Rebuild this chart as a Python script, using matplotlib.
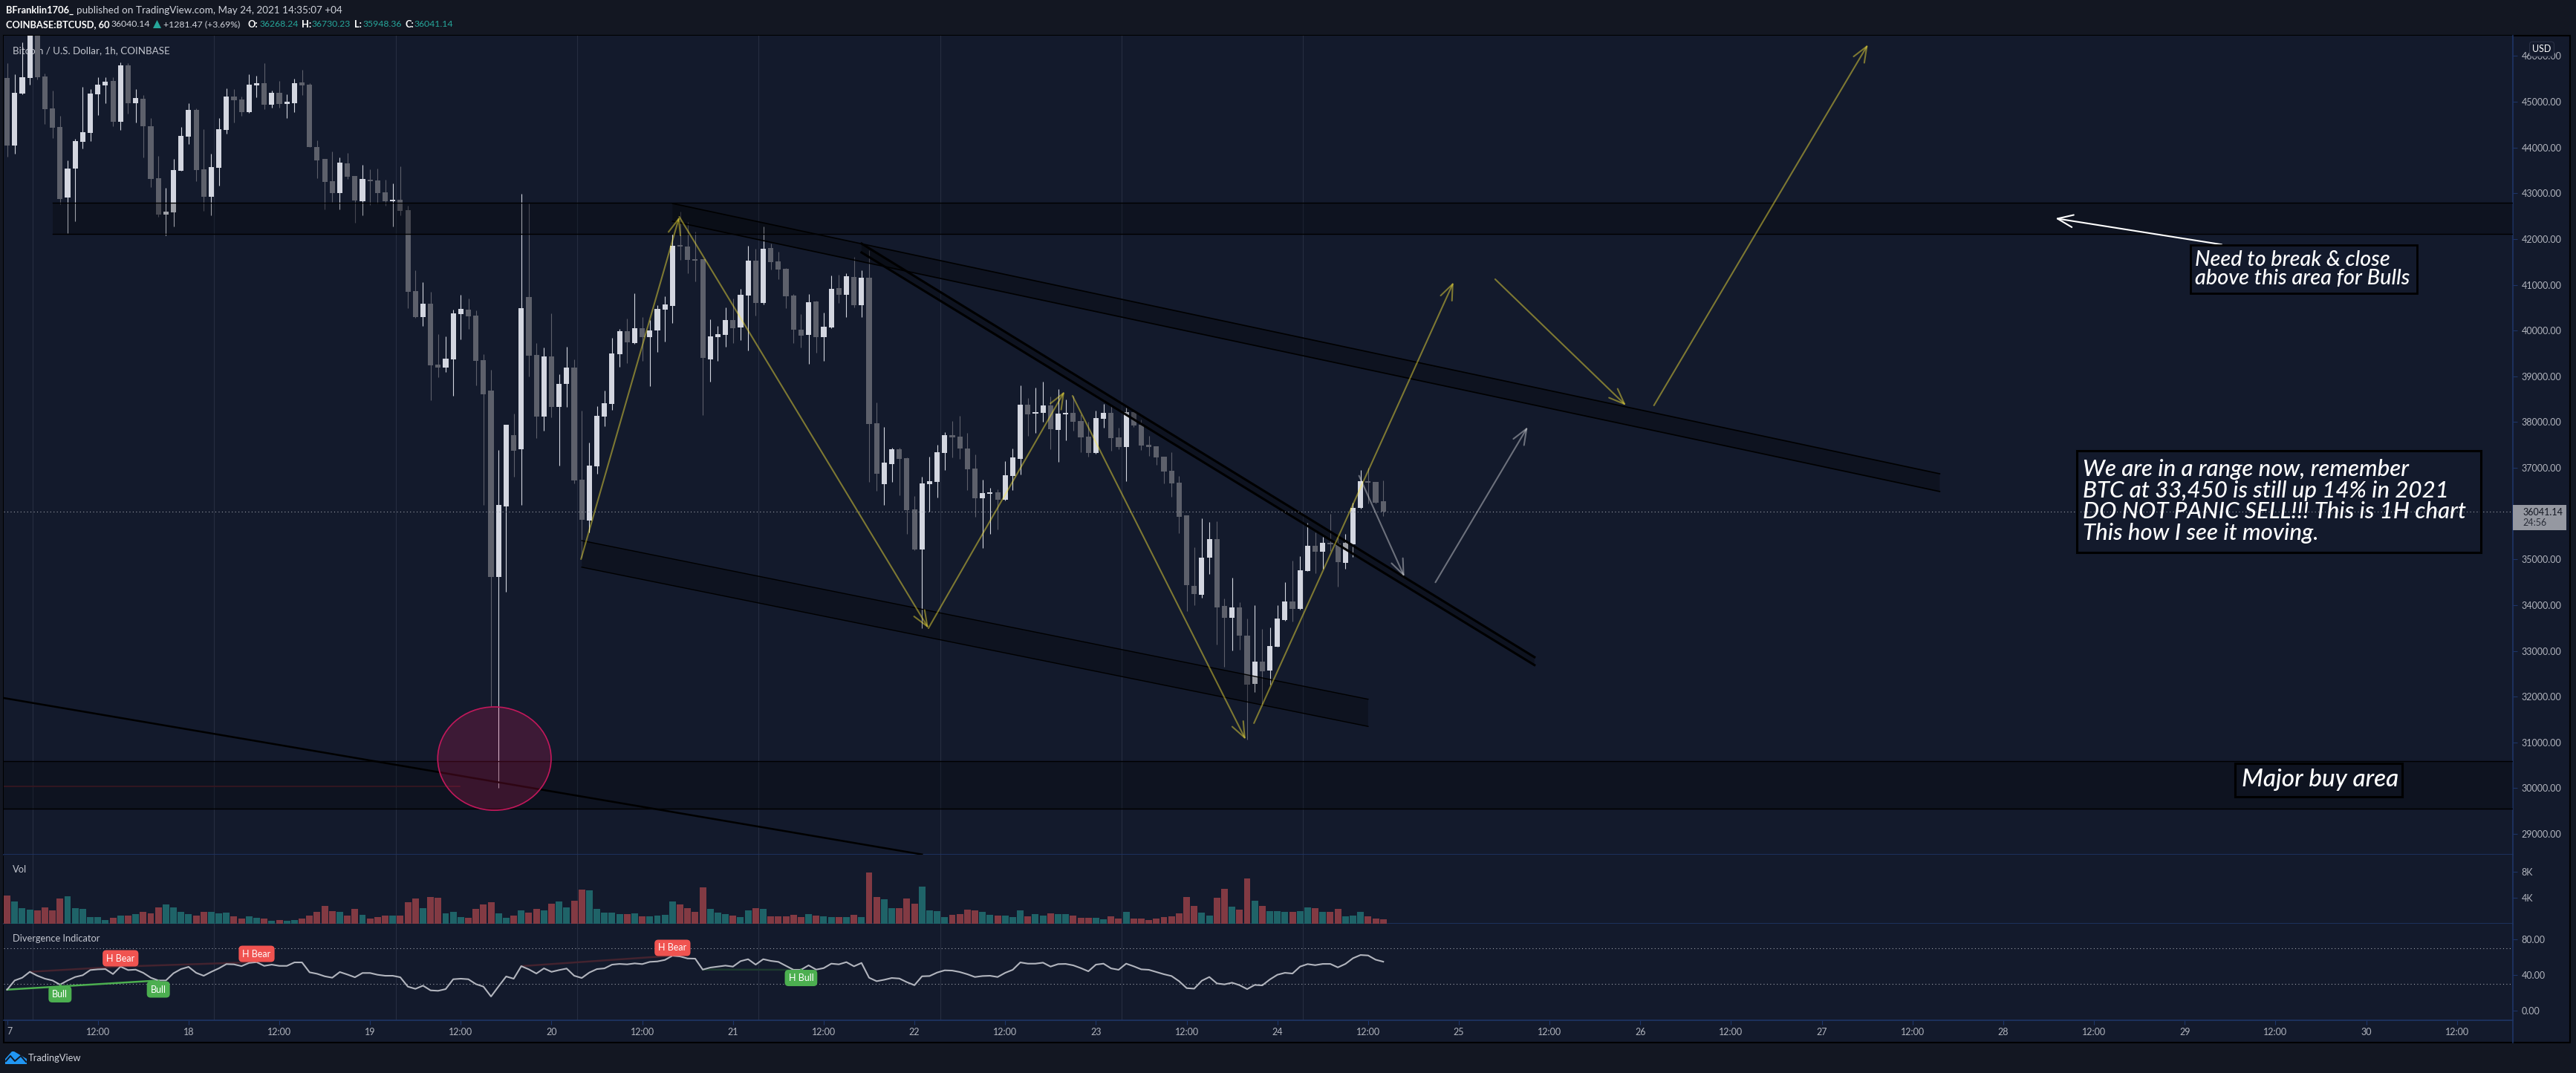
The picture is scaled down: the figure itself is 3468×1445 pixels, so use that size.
import matplotlib
matplotlib.use("Agg")
import matplotlib.pyplot as plt
from matplotlib.lines import Line2D
from matplotlib.patches import Rectangle, Ellipse, Polygon

plt.rcParams['font.family'] = ['Lato', 'DejaVu Sans']

W, H = 3468, 1445

# hourly candles, x = hours since May 17 00:00
opens = [45520, 44050, 45179, 45520, 46640, 45553, 44855, 44449, 42913, 43540, 44130, 44319, 45163, 45358, 45455, 44563,
         45796, 44968, 45066, 44465, 43329, 42534, 42583, 43492, 44238, 44822, 43524, 42924, 43557, 44384, 45114, 45050,
         44774, 45358, 45407, 44936, 45196, 44952, 44968, 45423, 45374, 44011, 43751, 43265, 43005, 43654, 43378, 42827,
         43297, 43281, 43021, 42827, 42859, 42632, 40863, 40295, 40587, 39257, 39192, 39370, 40360, 40457, 40328, 39354,
         38690, 34618, 36157, 37714, 37406, 40731, 39464, 38119, 39438, 38330, 38831, 39192, 36738, 35850, 37037, 38119,
         38400, 39482, 39983, 39728, 40054, 39860, 40001, 40458, 40537, 41865, 41839, 41558, 41558, 39368, 39860, 39904,
         40229, 40071, 40766, 41531, 40608, 41804, 41514, 41346, 40765, 40021, 39907, 40633, 39859, 40069, 40927, 40783,
         41173, 40555, 41155, 37973, 36644, 37082, 37406, 37214, 36092, 35216, 36644, 36692, 37328, 37718, 37682, 37424,
         36986, 36338, 36434, 36470, 36308, 36824, 37196, 38384, 38186, 38204, 38366, 37832, 38168, 38204, 38024, 37682,
         37328, 38072, 38204, 37670, 37454, 38222, 37940, 37508, 37472, 37244, 36937, 36677, 35963, 34421, 34227, 35038,
         35444, 33983, 33724, 33951, 33334, 32280, 32766, 32572, 33091, 33675, 34081, 33918, 34746, 35298, 35168, 35363,
         35346, 34925, 35330, 36125, 36709, 36693, 36268]
closes = [44050, 45196, 45536, 46640, 45536, 44844, 44438, 42881, 43540, 44141, 44336, 45179, 45374, 45439, 44563, 45796,
          44968, 45082, 44465, 43313, 42534, 42599, 43508, 44254, 44822, 43508, 42924, 43573, 44400, 45114, 45033, 44774,
          45374, 45407, 44936, 45196, 44952, 45001, 45407, 45358, 44011, 43719, 43248, 43005, 43670, 43362, 42843, 43313,
          43265, 43005, 42827, 42859, 42616, 40852, 40295, 40587, 39240, 39192, 39387, 40376, 40474, 40311, 39338, 38608,
          34618, 36193, 37943, 37380, 40493, 39456, 38119, 39438, 38330, 38831, 39192, 36729, 35867, 37054, 38136, 38418,
          39499, 39983, 39746, 40054, 39860, 40001, 40476, 40572, 41857, 41839, 41549, 41531, 39403, 39878, 39922, 40229,
          40054, 40784, 41531, 40608, 41786, 41496, 41338, 40748, 40021, 39889, 40621, 39859, 40081, 40909, 40783, 41185,
          40555, 41155, 37955, 36869, 37118, 37406, 37196, 36080, 35216, 36662, 36710, 37346, 37718, 37670, 37424, 36968,
          36338, 36452, 36470, 36308, 36842, 37232, 38384, 38168, 38222, 38366, 37844, 38186, 38204, 38006, 37670, 37328,
          38090, 38204, 37652, 37454, 38222, 37928, 37490, 37454, 37232, 36920, 36661, 35931, 34438, 34243, 35038, 35444,
          33951, 33724, 33951, 33334, 32263, 32766, 32555, 33107, 33708, 34081, 33918, 34762, 35298, 35168, 35363, 35330,
          34941, 35363, 36125, 36709, 36677, 36239, 36041]
highs = [45845, 45601, 46304, 46900, 46800, 45618, 45244, 44693, 43719, 44184, 45325, 45277, 45536, 45536, 45536, 45861,
         45845, 45277, 45147, 44644, 43816, 43119, 43751, 44449, 44968, 44855, 44400, 43865, 44644, 45293, 45277, 45114,
         45601, 45569, 45845, 45244, 45455, 45163, 45504, 45699, 45407, 44157, 43751, 43914, 43784, 43881, 43378, 43622,
         43524, 43540, 43297, 43216, 43589, 42729, 41318, 41058, 40847, 39922, 39873, 40457, 40782, 40701, 40441, 39484,
         39139, 37389, 37943, 38189, 42991, 42780, 39728, 39623, 40379, 39042, 39640, 39368, 38251, 37556, 38347, 38690,
         39842, 40036, 40265, 40819, 40291, 40238, 40555, 40748, 42120, 42595, 42375, 42164, 41558, 40247, 40098, 40502,
         40704, 40915, 41857, 41786, 42279, 41901, 41725, 41373, 40795, 40358, 40795, 40651, 40393, 41203, 41221, 41251,
         41617, 41317, 41755, 38431, 37891, 37442, 37442, 37232, 36386, 36806, 37244, 37508, 37784, 38024, 38138, 37766,
         37292, 36740, 36566, 36530, 37148, 37424, 38804, 38528, 38756, 38882, 38558, 38720, 38498, 38576, 38168, 38006,
         38252, 38396, 38348, 37880, 38318, 38222, 38060, 37700, 37472, 37244, 37342, 36823, 35963, 35265, 35898, 35817,
         35833, 34146, 34600, 34064, 33708, 33999, 33480, 33513, 33999, 34503, 34973, 35071, 35801, 35590, 35492, 35995,
         35509, 35557, 36239, 36953, 37002, 36693, 36730]
lows = [43805, 43870, 45158, 45374, 45482, 44520, 44206, 42756, 42129, 42394, 43979, 44141, 44709, 44968, 44465, 44384,
        44741, 44547, 43784, 43135, 42486, 42085, 42275, 43492, 44076, 43265, 42616, 42518, 43167, 44303, 44547, 44693,
        44758, 45098, 44839, 44871, 44871, 44644, 44774, 45147, 44011, 43329, 42648, 42810, 42648, 43313, 42356, 42518,
        42745, 42778, 42729, 42275, 42518, 40490, 40279, 40100, 38478, 38981, 39094, 38575, 39808, 40036, 38802, 36190,
        31795, 30001, 34284, 36808, 36193, 38989, 37644, 37820, 38101, 37054, 38330, 36659, 35032, 35586, 36870, 37908,
        38268, 39209, 39297, 39711, 39341, 38787, 39535, 39763, 40168, 41549, 41250, 41074, 38154, 38884, 39341, 39649,
        39728, 39790, 39561, 40326, 40573, 41338, 41127, 40493, 39727, 39631, 39271, 39517, 39337, 40051, 40603, 40297,
        40507, 40297, 36692, 36499, 36193, 36692, 36404, 35558, 35192, 33500, 36038, 36356, 36956, 37232, 37196, 36518,
        35936, 35252, 35558, 35660, 36290, 36518, 36854, 37700, 37766, 38006, 37406, 37130, 37604, 37814, 37346, 37244,
        37310, 37880, 37376, 37406, 36710, 37892, 37394, 37262, 37070, 36662, 36369, 35574, 33870, 34000, 34162, 34681,
        33140, 32653, 33010, 33026, 31063, 32101, 31809, 32263, 33091, 33659, 33643, 33902, 34746, 34697, 34795, 35184,
        34405, 34795, 35054, 36109, 36223, 36223, 35948]
# volume in thousands
volume = [4.38, 3.47, 2.44, 2.21, 2.10, 2.55, 2.10, 3.92, 4.27, 2.44, 2.32, 1.07, 1.07, 0.61, 0.95, 1.30, 1.30, 1.52, 1.87,
          1.64, 2.55, 3.01, 2.55, 1.87, 1.52, 1.30, 1.87, 1.87, 1.64, 1.75, 1.18, 0.84, 1.18, 0.95, 0.84, 0.50, 0.61, 0.50,
          0.61, 0.84, 1.30, 1.87, 2.78, 1.98, 1.87, 1.30, 2.32, 1.41, 0.84, 1.07, 1.30, 1.30, 1.30, 3.35, 3.92, 2.44, 4.15,
          4.04, 1.64, 1.87, 1.07, 0.95, 2.32, 3.01, 3.35, 1.64, 0.95, 1.30, 2.10, 1.75, 2.32, 2.10, 3.12, 3.47, 2.55, 3.58,
          5.30, 5.18, 2.32, 1.75, 1.75, 1.52, 1.52, 1.64, 1.18, 1.18, 1.30, 1.41, 3.47, 3.01, 2.44, 1.87, 5.64, 2.32, 1.75,
          1.52, 1.30, 1.07, 2.10, 2.44, 2.32, 1.18, 1.18, 1.18, 1.41, 1.07, 1.52, 1.30, 1.18, 1.07, 1.07, 1.07, 1.41, 1.07,
          7.92, 4.15, 3.81, 2.44, 2.44, 3.92, 3.12, 5.75, 2.10, 1.98, 1.07, 1.41, 1.52, 2.21, 2.10, 1.87, 1.41, 1.30, 1.30,
          1.07, 2.10, 1.18, 1.52, 1.30, 1.64, 1.52, 1.52, 1.30, 0.95, 0.95, 0.95, 0.72, 1.18, 0.84, 1.87, 0.84, 0.84, 0.61,
          0.84, 1.07, 1.18, 1.64, 4.15, 2.78, 1.75, 1.30, 4.04, 5.41, 2.67, 2.21, 7.01, 3.58, 2.78, 1.98, 1.98, 1.87, 1.87,
          1.98, 2.55, 2.44, 1.87, 1.87, 2.32, 1.18, 1.30, 1.87, 1.18, 0.84, 0.72]
# divergence indicator line
rsi = [23.8, 34.1, 37.2, 43.8, 39.4, 36.1, 34.1, 29.4, 34.1, 38.0, 40.0, 45.8, 46.6, 46.9, 41.3, 49.7, 45.8, 46.3, 42.7, 37.2,
       34.1, 34.1, 42.2, 46.9, 49.4, 42.7, 39.4, 43.8, 47.7, 52.5, 52.2, 50.2, 53.8, 54.7, 50.5, 51.9, 50.5, 50.5, 54.4, 54.4,
       43.3, 41.6, 38.8, 37.2, 43.6, 40.8, 37.7, 42.5, 42.5, 40.5, 39.4, 39.4, 37.7, 27.2, 24.7, 28.3, 23.0, 22.5, 24.4, 35.5,
       36.1, 35.5, 30.0, 27.2, 16.1, 27.5, 38.6, 36.1, 50.2, 46.6, 41.9, 47.7, 43.8, 45.8, 47.5, 39.4, 36.9, 43.0, 46.9, 47.7,
       51.9, 52.7, 52.2, 53.3, 52.5, 55.0, 55.5, 57.2, 61.9, 61.1, 58.8, 58.6, 46.3, 48.6, 49.7, 50.8, 49.7, 55.8, 58.0, 51.9,
       58.0, 56.1, 55.0, 50.5, 46.1, 46.1, 51.1, 46.3, 48.0, 53.0, 52.2, 54.7, 50.0, 53.8, 37.2, 33.3, 34.9, 36.9, 36.3, 32.2,
       28.8, 38.8, 39.1, 43.0, 45.5, 45.2, 43.6, 41.1, 38.0, 39.1, 39.4, 38.0, 42.7, 46.1, 54.4, 53.0, 53.0, 54.1, 49.7, 52.5,
       52.7, 51.1, 48.0, 44.4, 51.9, 53.0, 47.7, 46.1, 53.0, 50.0, 46.6, 46.1, 43.6, 41.1, 39.1, 33.3, 25.5, 24.9, 33.8, 38.0,
       30.8, 29.7, 31.6, 28.8, 24.4, 29.1, 28.6, 35.2, 40.5, 42.7, 41.9, 49.7, 52.5, 51.3, 52.7, 52.7, 48.8, 52.7, 59.1, 62.7,
       62.2, 57.4, 55.2]

price_ticks = list(range(29000, 47000, 1000))
vol_ticks = [4, 8]
vol_labels = ['4K', '8K']
rsi_ticks = [0, 40, 80]
rsi_labels = ['0.00', '40.00', '80.00']
time_ticks = list(range(0, 325, 12))
time_labels = ['']
for day in range(18, 31):
    time_labels += ['12:00', str(day)]
time_labels += ['12:00']
session_lines = [3.4, 27.4, 51.4, 75.4, 99.4, 123.4, 147.4, 171.4]

# drawings: (hour, price) pairs
resist_zone = (6, 42789, 42108)
buy_zone = (30587, 29549)
channel_a = [(88, 42778), (255.6, 36871), (255.6, 36483), (88, 42388)]
channel_b = [(113, 41901), (202, 32864), (202, 32690), (113, 41707)]
channel_c = [(76, 35411), (180, 31944), (180, 31350), (76, 34830)]
long_trend = [(-0.45, 31971), (121, 28552)]
yellow_arrows = [((75.9, 35005), (88.9, 42486)), ((88.9, 42486), (121.85, 33496)), ((121.85, 33496), (139.85, 38673)),
                 ((140.9, 38575), (163.8, 31063)), ((164.9, 31420), (191.3, 41058)), ((196.8, 41123), (214.1, 38364)),
                 ((217.8, 38364), (246.1, 46250))]
grey_arrows = [((178.8, 36828), (184.8, 34621)), ((188.9, 34498), (201.1, 37894))]
white_arrow = ((292.9, 41880), (270.9, 42453))

BG = '#131722'
PANE = '#131a2c'
AXIS = '#1e3566'
LABEL = '#b2b5be'
UP = '#d3d6e0'
DOWN = '#5d606b'
YELLOW = '#ffeb3b'
TEAL = '#26a69a'


def px(x, y):
    return x / W, 1 - y / H


def pane(top, bottom):
    ax = fig.add_axes([5 / W, 1 - bottom / H, 3378 / W, (bottom - top) / H])
    ax.set_facecolor(PANE)
    ax.set_xlim(-0.45, 331.4)
    for side in ['left', 'top']:
        ax.spines[side].set_visible(False)
    for side in ['right', 'bottom']:
        ax.spines[side].set_color(AXIS)
        ax.spines[side].set_linewidth(1.2)
    ax.yaxis.tick_right()
    ax.tick_params(axis='y', length=4.3, width=0.8, color=AXIS, labelcolor=LABEL, labelsize=9, pad=4)
    ax.set_xticks([])
    for h in session_lines:
        ax.axvline(h, color='#262d40', lw=0.8, zorder=1)
    return ax


def arrow(ax, start, end, color, alpha, lw=1.5):
    ax.annotate('', xy=end, xytext=start, zorder=6,
                arrowprops=dict(arrowstyle='->,head_length=0.75,head_width=0.3', color=color, alpha=alpha, lw=lw,
                                shrinkA=0, shrinkB=0, mutation_scale=20))


fig = plt.figure(figsize=(W / 100, H / 100), dpi=100, facecolor=BG)
fig.add_artist(Rectangle(px(5, 1404), 3455 / W, 1356 / H, transform=fig.transFigure, fc=PANE, ec='black', lw=1.5,
                         zorder=-1))

ax = pane(48, 1151)
ax_vol = pane(1151, 1244)
ax_rsi = pane(1244, 1374)

hours = list(range(len(closes)))

# candles
for h, o, c, hi, lo in zip(hours, opens, closes, highs, lows):
    col = UP if c >= o else DOWN
    ax.vlines(h, lo, hi, color=col, lw=0.8, zorder=3)
    ax.bar(h, abs(c - o), bottom=min(o, c), width=0.7, color=col, zorder=3)
ax.set_ylim(28547, 46445)
ax.set_yticks(price_ticks)
ax.set_yticklabels(['%.2f' % p for p in price_ticks])

# last price line
ax.axhline(closes[-1], color='#9ea1ab', lw=0.8, ls=(0, (1, 3)), zorder=5)

# zones and channels, drawn over candles so they dim them
for low, high, start in [(resist_zone[2], resist_zone[1], resist_zone[0]), (buy_zone[1], buy_zone[0], -0.45)]:
    ax.add_patch(Rectangle((start, low), 331.4 - start, high - low, fc='black', alpha=0.25, ec='none', zorder=4))
    ax.plot([start, 331.4], [high, high], color='black', lw=1.0, zorder=4)
    ax.plot([start, 331.4], [low, low], color='black', lw=1.0, zorder=4)
for chan, lw in [(channel_a, 1.2), (channel_b, 2.2), (channel_c, 1.0)]:
    ax.add_patch(Polygon(chan, fc='black', alpha=0.25, ec='none', zorder=4))
    ax.plot([chan[0][0], chan[1][0]], [chan[0][1], chan[1][1]], color='black', lw=lw, zorder=4)
    ax.plot([chan[3][0], chan[2][0]], [chan[3][1], chan[2][1]], color='black', lw=lw, zorder=4)
ax.plot(*zip(*long_trend), color='black', lw=1.8, zorder=4)

# circle around the wick low
ax.add_patch(Ellipse((64.45, 30647), 15.0, 2260, fc='#e91e63', alpha=0.2, ec='none', zorder=5))
ax.add_patch(Ellipse((64.45, 30647), 15.0, 2260, fc='none', ec='#c2185b', lw=1.2, zorder=5))
ax.plot([-0.45, 59.9], [30040, 30040], color='#4c1f2b', lw=1.2, zorder=3)

for start, end in yellow_arrows:
    arrow(ax, start, end, YELLOW, 0.45)
for start, end in grey_arrows:
    arrow(ax, start, end, 'white', 0.38)
arrow(ax, white_arrow[0], white_arrow[1], 'white', 1.0)

# text boxes
ax.add_patch(Rectangle((288.8, 40815), 29.9, 1054, fc='none', ec='black', lw=2, zorder=6))
ax.text(289.4, 41342, 'Need to break & close\nabove this area for Bulls', color='white', style='italic', fontsize=20.8,
        fontweight='medium', va='center', linespacing=0.98, zorder=7)
ax.add_patch(Rectangle((273.7, 35152), 53.5, 2227, fc='none', ec='black', lw=2.2, zorder=6))
ax.text(274.5, 36271, 'We are in a range now, remember\nBTC at 33,450 is still up 14% in 2021\n'
        'DO NOT PANIC SELL!!! This is 1H chart\nThis how I see it moving.', color='white', style='italic',
        fontsize=22.5, fontweight='medium', va='center', linespacing=1.03, zorder=7)
ax.add_patch(Rectangle((294.7, 29808), 22.1, 740, fc='none', ec='black', lw=2.2, zorder=6))
ax.text(295.5, 30186, 'Major buy area', color='white', style='italic', fontsize=24, fontweight='medium', va='center',
        zorder=7)

# pane captions sit behind the candles
ax.text(17 / W, 1 - 68 / H, 'Bitcoin / U.S. Dollar, 1h, COINBASE', transform=fig.transFigure, color='#c3c6cf',
        fontsize=9.6, va='center', zorder=2)

# volume
vol_colors = ['#1f6368' if c >= o else '#823a43' for o, c in zip(opens, closes)]
ax_vol.bar(hours, volume, width=0.88, color=vol_colors, zorder=3)
ax_vol.set_ylim(0, 10.63)
ax_vol.set_yticks(vol_ticks)
ax_vol.set_yticklabels(vol_labels)

# indicator
ax_rsi.plot(hours, rsi, color='#b2b5be', lw=1.5, zorder=4)
for level in [70, 30]:
    ax_rsi.axhline(level, color='#9ea1ab', lw=0.8, ls=(0, (1, 3)), zorder=2)
ax_rsi.plot([0, 20], [rsi[0], rsi[20]], color='#4caf50', lw=1.8, zorder=3)
for a, b in [(3, 15), (15, 33), (68, 88)]:
    ax_rsi.plot([a, b], [rsi[a], rsi[b]], color='#43232f', lw=1.8, zorder=3)
ax_rsi.plot([92, 105], [rsi[92], rsi[105]], color='#1d3a30', lw=1.8, zorder=3)
for x, y, tip, txt in [(15, 59, 51, 'H Bear'), (33, 64, 56, 'H Bear'), (88, 70.7, 63, 'H Bear')]:
    ax_rsi.plot(x, tip + 1.5, marker='v', color='#f05350', ms=4, zorder=5)
    ax_rsi.text(x, y, txt, color='white', fontsize=9, ha='center', va='center', zorder=6,
                bbox=dict(boxstyle='round,pad=0.4', fc='#f05350', ec='none'))
for x, y, tip, txt in [(7, 18.6, 29, 'Bull'), (20, 24, 34, 'Bull'), (105, 36.9, 47, 'H Bull')]:
    ax_rsi.plot(x, tip - 1.5, marker='^', color='#4caf50', ms=4, zorder=5)
    ax_rsi.text(x, y, txt, color='white', fontsize=9, ha='center', va='center', zorder=6,
                bbox=dict(boxstyle='round,pad=0.4', fc='#4caf50', ec='none'))
ax_rsi.set_ylim(-10.6, 97.8)
ax_rsi.set_yticks(rsi_ticks)
ax_rsi.set_yticklabels(rsi_labels)
ax_rsi.set_xticks(time_ticks)
ax_rsi.set_xticklabels(time_labels)
ax_rsi.tick_params(axis='x', length=4.3, width=0.8, color=AXIS, labelcolor=LABEL, labelsize=9, pad=3)

# chart furniture, placed by pixel
fig.add_artist(Line2D([3383 / W, 3383 / W], [1 - 1404 / H, 1 - 1374 / H], color=AXIS, lw=1.2))
fig.add_artist(Rectangle(px(3383, 714), 72 / W, 34 / H, transform=fig.transFigure, fc='#9598a1', ec='none', zorder=5))
fig.text(*px(3396, 690), '36041.14', color='#131722', fontsize=9, va='center', zorder=6)
fig.text(*px(3396, 704), '24:56', color='#2a2e39', fontsize=9, va='center', zorder=6)
fig.text(*px(3422, 66), 'USD', color='white', fontsize=9, ha='center', va='center', zorder=6,
         bbox=dict(boxstyle='round,pad=0.3', fc=PANE, ec='#2a3145', lw=0.8))

fig.text(*px(17, 1171), 'Vol', color='#c3c6cf', fontsize=9.3, va='center')
fig.text(*px(17, 1264), 'Divergence Indicator', color='#c3c6cf', fontsize=9.3, va='center')
fig.text(*px(9, 1389), '7', color=LABEL, fontsize=9, va='center')

# header
fig.text(*px(8, 14), 'BFranklin1706_', color='white', fontsize=9.3, fontweight='bold', va='center')
fig.text(*px(103, 14), 'published on TradingView.com, May 24, 2021 14:35:07 +04', color='#d1d4dc', fontsize=9.7, va='center')
fig.text(*px(8, 33), 'COINBASE:BTCUSD, 60', color='white', fontsize=9.3, fontweight='bold', va='center')
fig.text(*px(150, 33), '36040.14', color='#d1d4dc', fontsize=8.8, va='center')
fig.add_artist(Polygon([px(206, 38), px(217, 38), px(211.5, 27)], transform=fig.transFigure, fc=TEAL, ec='none'))
fig.text(*px(220, 33), '+1281.47 (+3.69%)', color='#d1d4dc', fontsize=8.8, va='center')
for x, txt in [(334, 'O:'), (406, 'H:'), (477, 'L:'), (545, 'C:')]:
    fig.text(*px(x, 33), txt, color='white', fontsize=9.3, fontweight='bold', va='center')
for x, txt in [(349, '36268.24'), (420, '36730.23'), (488, '35948.36'), (558, '36041.14')]:
    fig.text(*px(x, 33), txt, color=TEAL, fontsize=8.8, va='center')

# footer logo
fig.add_artist(Polygon([px(7, 1433), px(7, 1426), px(16, 1416), px(19, 1416), px(36, 1426), px(36, 1433)],
                       transform=fig.transFigure, fc='#2196f3', ec='none'))
fig.add_artist(Line2D([8 / W, 14 / W, 20 / W, 28 / W, 35 / W],
                      [1 - 1429 / H, 1 - 1422 / H, 1 - 1429 / H, 1 - 1422 / H, 1 - 1430 / H], color='#131722', lw=1.4))
fig.text(*px(38, 1425), 'TradingView', color='#d1d4dc', fontsize=9.3, va='center')

fig.savefig('out.png', dpi=100, facecolor=BG)
